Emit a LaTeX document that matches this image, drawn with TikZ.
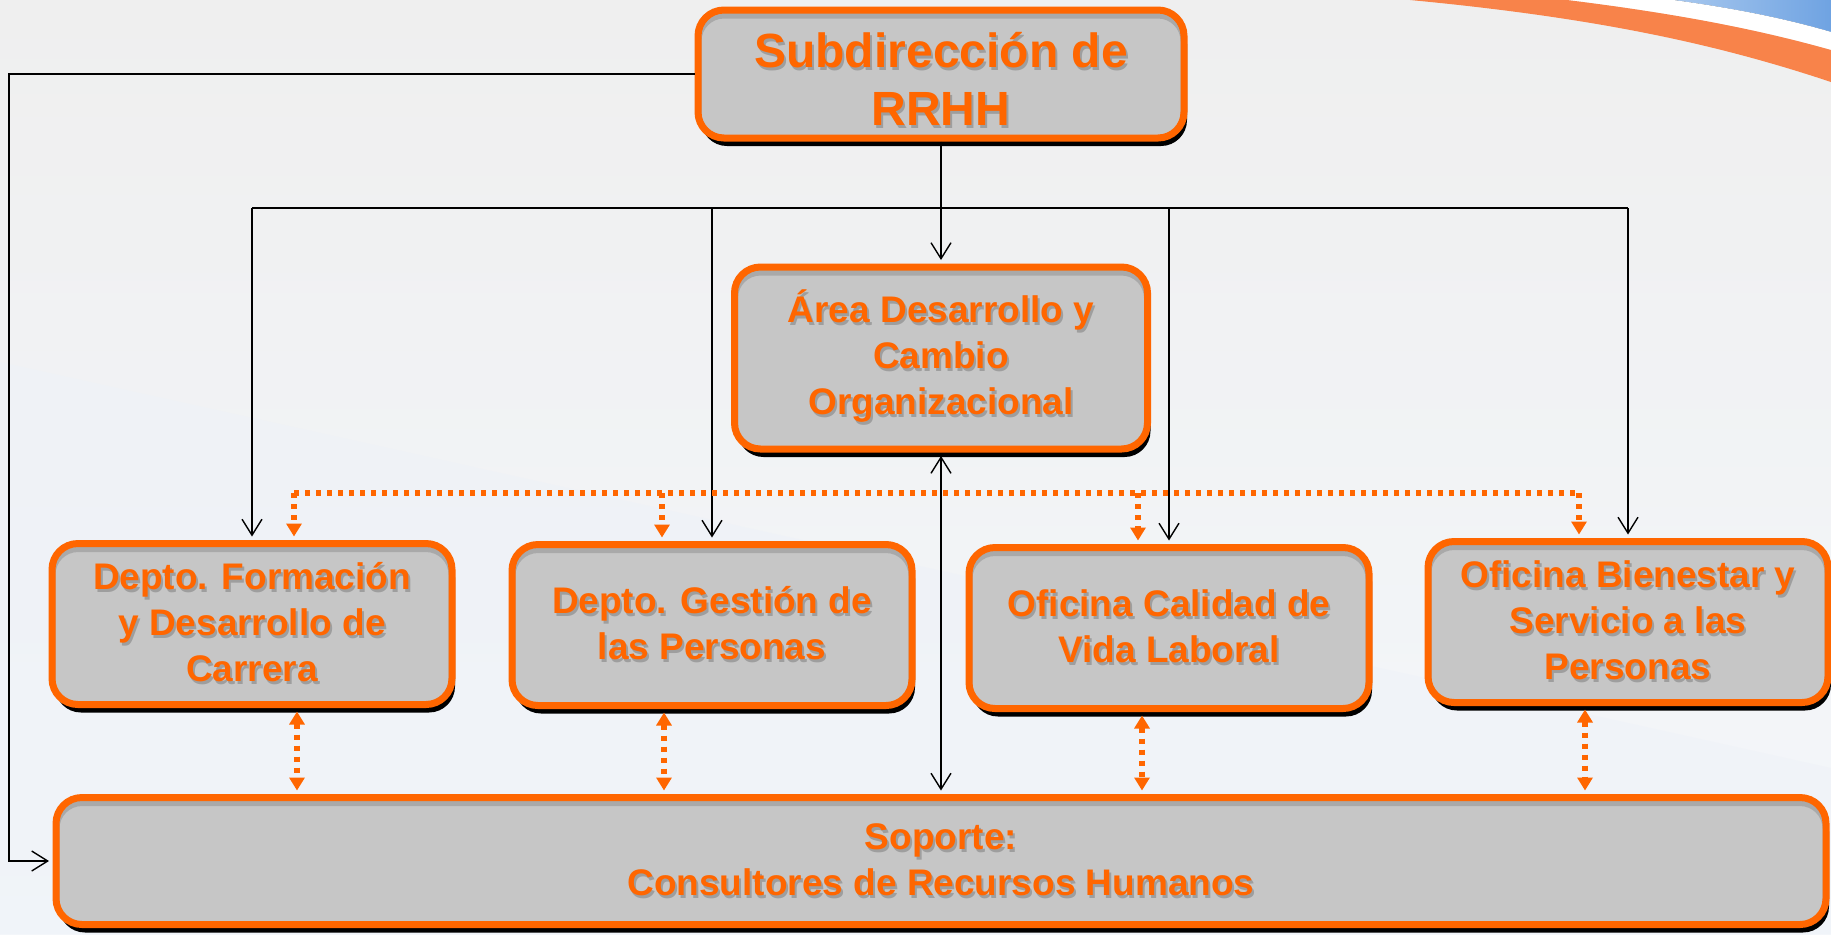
\documentclass[tikz,border=0pt]{standalone}
\usepackage{fontspec}
\setmainfont{Liberation Sans}
\usetikzlibrary{arrows.meta,shadows}

\definecolor{rrhhorange}{HTML}{FF6600}
\definecolor{boxgray}{HTML}{C6C6C6}
\definecolor{innergray}{HTML}{A9A9A9}
\definecolor{txtshadow}{HTML}{9E9E9E}
\definecolor{bgtop}{HTML}{EFEFEF}
\definecolor{bgbottom}{HTML}{F4F7FB}
\definecolor{bgblue}{HTML}{EEF2F8}
\definecolor{swooshorange}{HTML}{F8834A}
\definecolor{swooshblue}{HTML}{6FA3E2}
\definecolor{swooshlight}{HTML}{A8C8EE}

% text with a grey shadow behind it
\newcommand\shtxt[1]{\rlap{\kern1pt\raisebox{-1.5pt}{\textcolor{txtshadow}{#1}}}#1}
% same, set a little lower
\newcommand\lowtxt[1]{\raisebox{-3pt}[\height][\depth]{\shtxt{#1}}}

\tikzset{
    unitbox/.style={draw=rrhhorange, line width=3.5pt, fill=boxgray, rounded corners=13pt,
        text=rrhhorange, align=center, font=\fontsize{18.5}{23}\selectfont\bfseries,
        minimum width=200pt, minimum height=80.5pt, inner sep=0pt,
        drop shadow={shadow xshift=1.5pt, shadow yshift=-4pt, fill=black, opacity=1},
        path picture={\draw[innergray, line width=3.5pt, rounded corners=13pt]
            ([yshift=-2.5pt]path picture bounding box.north west) rectangle
            ([yshift=-2.5pt]path picture bounding box.south east);}},
    topbox/.style={unitbox, font=\fontsize{24}{29}\selectfont\bfseries,
        minimum width=243pt, minimum height=64pt},
    link/.style={line width=0.7pt, black},
    linkarrow/.style={link, -{Straight Barb[length=8pt,width=10pt]}, shorten >=1.75pt},
    linkboth/.style={link, {Straight Barb[length=8pt,width=10pt]}-{Straight Barb[length=8pt,width=10pt]},
        shorten >=1.75pt, shorten <=1.75pt},
    dotlink/.style={rrhhorange, line width=2.7pt, dash pattern=on 2.7pt off 2.8pt},
    dotarrow/.style={dotlink, -{Triangle[length=6.5pt,width=7.5pt]}, shorten >=1.75pt},
    dotboth/.style={dotlink, {Triangle[length=6.5pt,width=7.5pt]}-{Triangle[length=6.5pt,width=7.5pt]},
        shorten >=1.75pt, shorten <=1.75pt}
}

\begin{document}
\begin{tikzpicture}[x=0.5pt, y=-0.5pt]
    % Background
    \useasboundingbox (0,0) rectangle (1831,934);
    \fill[top color=bgtop, bottom color=bgbottom] (0,0) rectangle (1831,934);
    \fill[bgblue, opacity=0.6] (0,362) -- (1831,768) -- (1831,934) -- (0,934) -- cycle;
    % Swoosh
    \fill[left color=swooshlight, right color=swooshblue] (1673,0) -- (1831,0) -- (1831,32)
        .. controls (1790,20) and (1740,9) .. (1673,0) -- cycle;
    \fill[white] (1567,0) -- (1673,0) .. controls (1740,9) and (1790,20) .. (1831,32) -- (1831,50)
        .. controls (1760,30) and (1680,14) .. (1567,0) -- cycle;
    \fill[swooshorange] (1410,0) -- (1567,0) .. controls (1680,14) and (1760,30) .. (1831,50) -- (1831,82)
        .. controls (1720,45) and (1600,18) .. (1410,0) -- cycle;

    % Units
    \node[topbox] (subdir) at (941,74) {\lowtxt{Subdirección de}\\\lowtxt{RRHH}};
    \node[unitbox, minimum width=206.5pt, minimum height=91pt] (area) at (941,358)
        {\shtxt{Área Desarrollo y}\\\shtxt{Cambio}\\\shtxt{Organizacional}};
    \node[unitbox] (form) at (252,624) {\shtxt{Depto. Formación}\\\shtxt{y Desarrollo de}\\\shtxt{Carrera}};
    \node[unitbox] (gest) at (712,625) {\shtxt{Depto. Gestión de}\\\shtxt{las Personas}};
    \node[unitbox] (cal) at (1169,628) {\shtxt{Oficina Calidad de}\\\shtxt{Vida Laboral}};
    \node[unitbox] (bien) at (1628,622) {\shtxt{Oficina Bienestar y}\\\shtxt{Servicio a las}\\\shtxt{Personas}};
    \node[unitbox, minimum width=885pt, minimum height=63.5pt] (sop) at (941,861)
        {\shtxt{Soporte:}\\\shtxt{Consultores de Recursos Humanos}};

    % Lines from the Subdirección
    \coordinate (bus) at (0,208);
    \coordinate (loop) at (9,0);
    \draw[link] (subdir.south) -- (subdir.south |- bus);
    \draw[link] (form.north |- bus) -- (bien.north |- bus);
    \draw[linkarrow] (form.north |- bus) -- (form.north);
    \draw[linkarrow] (gest.north |- bus) -- (gest.north);
    \draw[linkarrow] (area.north |- bus) -- (area.north);
    \draw[linkarrow] (cal.north |- bus) -- (cal.north);
    \draw[linkarrow] (bien.north |- bus) -- (bien.north);
    \draw[linkarrow] (subdir.west) -- (subdir.west -| loop) |- (sop.west);
    \draw[linkboth] (area.south) -- (area.south |- sop.north);

    % Dotted lines
    \coordinate (dfo) at (294,493);
    \coordinate (dge) at (662,493);
    \coordinate (dca) at (1138,493);
    \coordinate (dbi) at (1579,493);
    \draw[dotlink] (dfo) -- (dbi);
    \draw[dotarrow] (dfo) -- (dfo |- form.north);
    \draw[dotarrow] (dge) -- (dge |- gest.north);
    \draw[dotarrow] (dca) -- (dca |- cal.north);
    \draw[dotarrow] (dbi) -- (dbi |- bien.north);
    \coordinate (bfo) at (297,0);
    \coordinate (bge) at (664,0);
    \coordinate (bca) at (1142,0);
    \coordinate (bbi) at (1585,0);
    \draw[dotboth] (bfo |- form.south) -- (bfo |- sop.north);
    \draw[dotboth] (bge |- gest.south) -- (bge |- sop.north);
    \draw[dotboth] (bca |- cal.south) -- (bca |- sop.north);
    \draw[dotboth] (bbi |- bien.south) -- (bbi |- sop.north);
\end{tikzpicture}
\end{document}
